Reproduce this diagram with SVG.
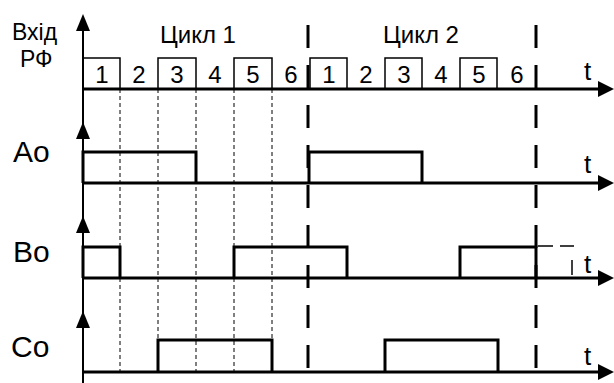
<svg xmlns="http://www.w3.org/2000/svg" width="614" height="383" viewBox="0 0 614 383">
  <style>
    text { font-family: "Liberation Sans", Arial, sans-serif; fill: #000; }
    .lbl { font-size: 23px; }
    .cyc { font-size: 24px; text-anchor: middle; }
    .t { font-size: 26px; }
    .sig { font-size: 30px; }
    .num { font-size: 24px; text-anchor: middle; }
    .axis { stroke: #000; stroke-width: 3; fill: none; }
    .vaxis { stroke: #000; stroke-width: 2; fill: none; }
    .pulse { stroke: #000; stroke-width: 3; fill: none; stroke-linejoin: miter; }
    .box { stroke: #000; stroke-width: 1.5; fill: none; }
    .grid { stroke: #000; stroke-width: 1; stroke-dasharray: 4 3; fill: none; }
    .cycle { stroke: #000; stroke-width: 3; stroke-dasharray: 23 17; fill: none; }
    .ext { stroke: #000; stroke-width: 1.5; stroke-dasharray: 15 7; fill: none; }
  </style>

  <!-- slot grid and cycle boundaries -->
  <g id="grid">
    <line class="grid" x1="120" y1="89" x2="120" y2="372"/>
    <line class="grid" x1="158" y1="89" x2="158" y2="372"/>
    <line class="grid" x1="196" y1="89" x2="196" y2="372"/>
    <line class="grid" x1="234" y1="89" x2="234" y2="372"/>
    <line class="grid" x1="272" y1="89" x2="272" y2="372"/>
    <line class="cycle" x1="308" y1="25" x2="308" y2="383"/>
    <line class="cycle" x1="536" y1="25" x2="536" y2="383"/>
  </g>

  <!-- axes -->
  <g id="connectors">
    <line class="vaxis" x1="83" y1="383" x2="83" y2="20"/>
    <path d="M76,31 L83,14 L90,31 Z" fill="#000"/>
    <path d="M76,139 L83,122 L90,139 Z" fill="#000"/>
    <path d="M76,233 L83,216 L90,233 Z" fill="#000"/>
    <path d="M76,328 L83,311 L90,328 Z" fill="#000"/>

    <line class="axis" x1="83" y1="89" x2="602" y2="89"/>
    <path d="M598,81 L614,89 L598,97 Z" fill="#000"/>
    <line class="axis" x1="83" y1="183" x2="602" y2="183"/>
    <path d="M598,175 L614,183 L598,191 Z" fill="#000"/>
    <line class="axis" x1="83" y1="278" x2="602" y2="278"/>
    <path d="M598,270 L614,278 L598,286 Z" fill="#000"/>
    <line class="axis" x1="83" y1="372" x2="602" y2="372"/>
    <path d="M598,364 L614,372 L598,380 Z" fill="#000"/>
  </g>

  <!-- input pulses with slot numbers -->
  <g id="input">
    <text class="lbl" x="12" y="40">Вхід</text>
    <text class="lbl" x="20" y="67">РФ</text>
    <text class="cyc" x="198" y="43">Цикл 1</text>
    <text class="cyc" x="421" y="43">Цикл 2</text>
    <text class="t" x="584" y="80">t</text>
    <polyline class="box" points="83,89 83,58 120,58 120,89"/>
    <polyline class="box" points="158,89 158,58 196,58 196,89"/>
    <polyline class="box" points="234,89 234,58 272,58 272,89"/>
    <polyline class="box" points="310,89 310,58 347,58 347,89"/>
    <polyline class="box" points="385,89 385,58 422,58 422,89"/>
    <polyline class="box" points="460,89 460,58 497,58 497,89"/>
    <text class="num" x="102" y="83">1</text>
    <text class="num" x="139" y="83">2</text>
    <text class="num" x="177" y="83">3</text>
    <text class="num" x="215" y="83">4</text>
    <text class="num" x="253" y="83">5</text>
    <text class="num" x="291" y="83">6</text>
    <text class="num" x="329" y="83">1</text>
    <text class="num" x="366" y="83">2</text>
    <text class="num" x="404" y="83">3</text>
    <text class="num" x="441" y="83">4</text>
    <text class="num" x="479" y="83">5</text>
    <text class="num" x="517" y="83">6</text>
  </g>

  <!-- output A -->
  <g id="Ao">
    <text class="sig" x="13" y="162">Ao</text>
    <text class="t" x="584" y="173">t</text>
    <polyline class="pulse" points="83,183 83,152 196,152 196,183"/>
    <polyline class="pulse" points="309,183 309,152 422,152 422,183"/>
  </g>

  <!-- output B -->
  <g id="Bo">
    <text class="sig" x="13" y="262">Bo</text>
    <text class="t" x="584" y="273">t</text>
    <polyline class="pulse" points="83,278 83,247 120,247 120,278"/>
    <polyline class="pulse" points="234,278 234,247 347,247 347,278"/>
    <polyline class="pulse" points="460,278 460,247 536,247 536,278"/>
    <line class="ext" x1="538" y1="246" x2="574" y2="246"/>
    <line class="ext" x1="572" y1="260" x2="572" y2="276"/>
  </g>

  <!-- output C -->
  <g id="Co">
    <text class="sig" x="11" y="357">Co</text>
    <text class="t" x="584" y="365">t</text>
    <polyline class="pulse" points="158,372 158,340 272,340 272,372"/>
    <polyline class="pulse" points="385,372 385,340 498,340 498,372"/>
  </g>
</svg>
